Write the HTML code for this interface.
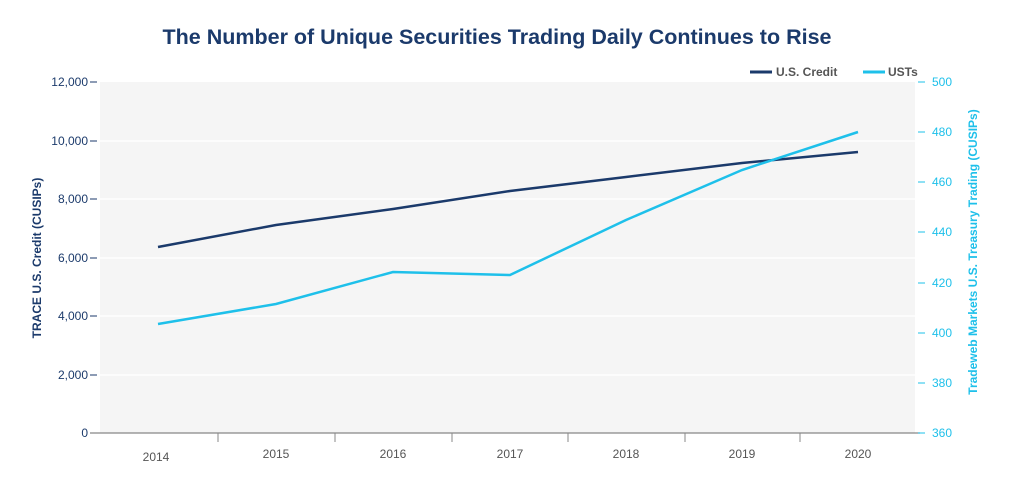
<!DOCTYPE html><html><head><style>body{margin:0;background:#fff}svg{display:block}</style></head><body>
<svg width="1025" height="497" xmlns="http://www.w3.org/2000/svg" font-family="Liberation Sans, sans-serif">
<text x="497" y="44" text-anchor="middle" font-size="21.5" font-weight="bold" fill="#1b3a6b">The Number of Unique Securities Trading Daily Continues to Rise</text>
<rect x="100" y="82" width="815" height="351" fill="#f5f5f5"/>
<g stroke="#fff" stroke-width="1.5"><line x1="100" x2="915" y1="141" y2="141"/><line x1="100" x2="915" y1="199" y2="199"/><line x1="100" x2="915" y1="258" y2="258"/><line x1="100" x2="915" y1="316" y2="316"/><line x1="100" x2="915" y1="375" y2="375"/></g>
<line x1="90" x2="920" y1="433" y2="433" stroke="#888" stroke-width="1.2"/>
<g stroke="#888"><line x1="218" x2="218" y1="433" y2="442"/><line x1="335" x2="335" y1="433" y2="442"/><line x1="452" x2="452" y1="433" y2="442"/><line x1="568" x2="568" y1="433" y2="442"/><line x1="685" x2="685" y1="433" y2="442"/><line x1="800" x2="800" y1="433" y2="442"/></g>
<g font-size="12" fill="#555" text-anchor="middle"><text x="156" y="461">2014</text><text x="276" y="458">2015</text><text x="393" y="458">2016</text><text x="510" y="458">2017</text><text x="626" y="458">2018</text><text x="742" y="458">2019</text><text x="858" y="458">2020</text></g>
<g font-size="12" fill="#1b3a6b" text-anchor="end"><text x="88" y="86">12,000</text><text x="88" y="145">10,000</text><text x="88" y="203">8,000</text><text x="88" y="262">6,000</text><text x="88" y="320">4,000</text><text x="88" y="379">2,000</text><text x="88" y="437">0</text></g>
<g stroke="#1b3a6b"><line x1="90" x2="97" y1="82" y2="82"/><line x1="90" x2="97" y1="141" y2="141"/><line x1="90" x2="97" y1="199" y2="199"/><line x1="90" x2="97" y1="258" y2="258"/><line x1="90" x2="97" y1="316" y2="316"/><line x1="90" x2="97" y1="375" y2="375"/></g>
<g font-size="12" fill="#1ec0ea"><text x="932" y="86">500</text><text x="932" y="136">480</text><text x="932" y="186">460</text><text x="932" y="236">440</text><text x="932" y="287">420</text><text x="932" y="337">400</text><text x="932" y="387">380</text><text x="932" y="437">360</text></g>
<g stroke="#1ec0ea"><line x1="918" x2="925" y1="82" y2="82"/><line x1="918" x2="925" y1="132" y2="132"/><line x1="918" x2="925" y1="182" y2="182"/><line x1="918" x2="925" y1="232" y2="232"/><line x1="918" x2="925" y1="283" y2="283"/><line x1="918" x2="925" y1="333" y2="333"/><line x1="918" x2="925" y1="383" y2="383"/><line x1="918" x2="925" y1="433" y2="433"/></g>
<text transform="translate(41,258) rotate(-90)" text-anchor="middle" font-size="12" font-weight="bold" fill="#1b3a6b">TRACE U.S. Credit (CUSIPs)</text>
<text transform="translate(977,252) rotate(-90)" text-anchor="middle" font-size="12" font-weight="bold" fill="#1ec0ea">Tradeweb Markets U.S. Treasury Trading (CUSIPs)</text>
<polyline fill="none" stroke="#1b3a6b" stroke-width="2.5" points="158,247 276,225 393,209 510,191 626,177 742,163 858,152"/>
<polyline fill="none" stroke="#1ec0ea" stroke-width="2.5" points="158,324 276,304 393,272 510,275 626,220 742,170 858,132"/>
<line x1="750" x2="772" y1="72" y2="72" stroke="#1b3a6b" stroke-width="3"/><text x="776" y="76" font-size="12" font-weight="bold" fill="#555">U.S. Credit</text>
<line x1="863" x2="885" y1="72" y2="72" stroke="#1ec0ea" stroke-width="3"/><text x="888" y="76" font-size="12" font-weight="bold" fill="#555">USTs</text>
</svg></body></html>
